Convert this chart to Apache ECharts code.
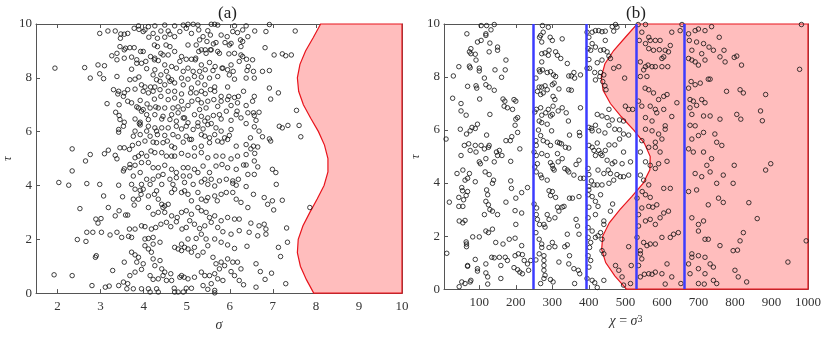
<!DOCTYPE html>
<html>
<head>
<meta charset="utf-8">
<script src="https://cdn.jsdelivr.net/npm/echarts@6/dist/echarts.min.js"></script>
<style>
  html, body { margin: 0; padding: 0; background: #fff; }
  #chart { width: 830px; height: 337px; }
</style>
</head>
<body>
<div id="chart"></div>
<script>
// tick labels
var sigmaTicks = [2, 3, 4, 5, 6, 7, 8, 9, 10]
var chiTicks = [100, 200, 300, 400, 500, 600, 700, 800, 900, 1000]

// boundary of the shaded region
var tauBoundary = [0, 0.5, 1, 1.5, 2, 2.5, 3, 3.5, 4, 4.5, 5, 5.5, 6, 6.5, 7, 7.5, 8, 8.5, 9, 9.5, 10]
var sigmaBoundary = [7.95, 7.78, 7.64, 7.57, 7.59, 7.70, 7.86, 8.03, 8.19, 8.28, 8.28, 8.20, 8.06, 7.88, 7.71, 7.60, 7.57, 7.63, 7.76, 7.94, 8.11]
var chiBoundary = [503, 471, 446, 435, 438, 456, 485, 518, 549, 567, 568, 552, 523, 489, 459, 439, 434, 444, 468, 500, 532]

// vertical blue lines in (b)
var chiLines = [248, 394, 530, 662]

// (a) samples: [sigma, tau]
var pointsA = [
[3.88,9.93],[4.11,9.90],[4.26,9.93],[4.49,9.96],[4.72,9.93],[4.92,9.96],[5.03,9.99],[5.15,9.99],[5.26,9.96],[5.57,9.99],[5.65,9.99],[5.72,9.96],[6.11,9.93],[6.38,9.93],[6.92,9.98],
[2.98,9.65],[3.17,9.74],[3.34,9.74],[3.47,9.63],[3.55,9.62],[3.63,9.65],[3.78,9.84],[3.89,9.80],[3.99,9.72],[4.03,9.78],[4.22,9.65],[4.32,9.47],[4.40,9.74],[4.57,9.74],[4.61,9.62],
[4.72,9.53],[4.84,9.72],[4.99,9.84],[5.11,9.65],[5.28,9.78],[5.38,9.53],[5.49,9.75],[5.55,9.59],[5.80,9.59],[5.94,9.53],[6.07,9.72],[6.18,9.68],[6.30,9.78],[6.58,9.74],[6.84,9.72],[7.52,9.74],
[3.46,9.47],[4.12,9.51],[4.49,9.51],[5.30,9.41],[5.47,9.35],[5.62,9.26],[5.68,9.31],[5.89,9.31],[5.99,9.22],[6.25,9.41],[6.30,9.35],[6.42,9.53],
[3.45,9.16],[3.55,9.04],[3.58,9.10],[3.68,9.12],[3.78,9.12],[4.25,9.22],[4.32,9.16],[4.52,9.22],[4.61,9.16],[5.03,9.22],[5.22,9.22],[5.43,9.04],[5.55,9.04],[6.03,9.28],[6.26,9.16],[6.82,9.12],
[3.26,8.82],[3.38,8.91],[3.55,8.73],[3.72,8.77],[3.84,8.67],[3.93,8.98],[3.99,8.98],[4.16,8.79],[4.26,8.73],[4.40,8.91],[4.45,8.85],[4.57,8.85],[4.72,8.98],[4.88,8.79],[4.99,8.69],
[5.11,8.69],[5.21,8.73],[5.28,8.98],[5.34,9.04],[5.45,8.91],[5.57,9.04],[5.72,8.98],[5.76,8.91],[5.98,8.89],[6.11,8.91],[6.26,8.85],[6.30,8.79],[6.39,8.69],[6.53,8.67],[7.03,8.85],[7.22,8.89],[7.30,8.82],[7.43,8.85],
[3.38,8.67],[3.84,8.54],[3.95,8.54],[4.05,8.61],[4.25,8.67],[4.34,8.64],[4.49,8.48],[4.65,8.42],[4.84,8.61],[5.03,8.36],[5.20,8.67],[5.34,8.48],[5.53,8.57],[5.66,8.42],[5.84,8.36],[6.03,8.48],[6.22,8.61],[6.43,8.42],
[2.63,8.38],[1.94,8.36],[2.94,8.48],[3.09,8.45],[3.72,8.32],[4.07,8.34],[4.26,8.30],[4.53,8.24],[4.76,8.36],[4.92,8.24],[5.15,8.24],[5.30,8.24],[5.43,8.30],[5.61,8.27],[5.82,8.36],[5.95,8.30],[6.08,8.24],[6.40,8.27],[6.55,8.24],[6.76,8.24],[6.92,8.27],
[2.76,7.99],[2.98,8.15],[3.07,7.97],[3.38,8.05],[3.68,7.93],[3.80,7.95],[3.89,8.03],[4.22,8.11],[4.30,7.93],[4.40,8.11],[4.57,8.03],[4.65,7.93],[4.88,7.99],[5.03,7.95],[5.18,8.05],[5.34,8.03],[5.53,7.99],[5.72,8.05],[5.99,8.11],[6.11,7.95],[6.38,7.99],[6.57,7.99],
[3.95,7.74],[4.03,7.66],[4.16,7.66],[4.26,7.66],[4.38,7.87],[4.49,7.74],[4.61,7.87],[4.72,7.81],[4.92,7.74],[5.11,7.62],[5.26,7.81],[5.42,7.74],[5.65,7.66],[5.95,7.66],
[3.30,7.56],[3.40,7.40],[3.63,7.56],[3.42,7.50],[3.55,7.44],[3.80,7.58],[3.99,7.50],[4.11,7.44],[4.22,7.50],[4.38,7.56],[4.57,7.50],[4.72,7.50],[4.88,7.40],[5.09,7.44],[5.22,7.44],[5.34,7.50],[5.43,7.41],[5.55,7.56],[5.65,7.50],
[5.80,7.31],[5.98,7.31],[6.11,7.27],[6.20,7.31],[6.32,7.50],[6.57,7.31],[6.92,7.62],[7.13,7.44],[6.95,7.21],
[3.53,7.31],[3.63,7.13],[3.72,7.07],[3.92,7.16],[4.08,7.03],[4.25,7.21],[4.40,7.31],[4.57,7.19],[4.72,7.25],[4.88,7.13],[5.12,7.13],[5.26,7.19],[5.34,7.07],[5.49,7.13],[5.63,7.19],[5.80,7.13],[5.95,7.19],[6.03,6.97],[6.18,7.07],[6.38,6.97],[6.53,7.13],
[3.15,7.04],[3.43,7.00],[3.84,6.92],[3.99,6.82],[4.15,6.88],[4.28,6.92],[4.34,6.88],[4.49,6.88],[4.68,6.88],[4.80,6.92],[4.92,6.84],[5.03,6.97],[5.30,6.82],[5.45,6.88],[5.72,6.94],[5.92,6.76],[6.17,6.76],[6.42,6.70],[6.55,6.70],[6.68,6.72],
[3.35,6.72],[3.43,6.60],[3.88,6.88],[3.95,6.76],[4.07,6.63],[4.26,6.63],[4.45,6.57],[4.65,6.63],[4.80,6.70],[4.95,6.51],[5.18,6.63],[5.34,6.57],[5.49,6.51],[5.62,6.60],[5.76,6.63],[6.15,6.63],[6.57,6.60],
[3.45,6.45],[3.55,6.35],[3.80,6.47],[3.92,6.35],[4.11,6.45],[4.42,6.47],[4.61,6.45],[4.76,6.39],[4.92,6.51],[5.03,6.33],[5.26,6.33],[5.42,6.39],[5.57,6.30],[5.80,6.47],[6.03,6.42],[6.26,6.51],[6.61,6.42],[7.55,6.79],
[3.42,6.08],[3.53,6.20],[3.90,6.30],[3.92,6.25],[4.11,6.20],[4.26,6.14],[4.42,6.14],[4.57,6.14],[4.76,6.20],[4.88,6.10],[4.99,6.20],[5.15,6.08],[5.26,6.20],[5.38,6.10],[5.49,6.26],[5.68,6.14],[5.80,6.02],[6.03,6.08],
[6.38,6.30],[6.57,6.18],[7.15,6.20],[7.22,6.14],[7.35,6.23],[7.61,6.23],[6.68,6.02],[7.65,5.81],[3.42,5.98],[3.80,6.02],[4.07,6.02],[4.30,6.02],
[3.76,5.83],[3.92,5.89],[4.15,5.83],[4.32,5.89],[4.49,5.86],[4.68,5.89],[4.80,5.81],[4.99,5.83],[5.11,5.71],[5.34,5.89],[5.42,5.83],[5.53,5.77],[5.65,5.89],[5.88,5.77],[5.99,5.86],[6.48,5.77],[6.76,5.81],[6.92,5.73],
[2.34,5.36],[2.65,4.91],[2.76,5.15],[3.09,5.18],[3.18,5.31],[3.34,5.12],[3.38,4.99],[3.45,5.40],[3.55,5.40],[3.67,5.34],[3.74,5.49],[3.88,5.56],[4.03,5.65],[4.22,5.61],[4.30,5.59],[4.45,5.59],[4.55,5.65],
[4.65,5.46],[4.72,5.40],[4.92,5.61],[5.07,5.71],[5.18,5.40],[5.34,5.46],[5.53,5.59],[5.72,5.65],[5.82,5.61],[5.95,5.71],[6.15,5.46],[6.38,5.52],[6.49,5.36],[6.55,5.46],[6.65,5.43],[6.95,5.65],
[3.55,4.62],[3.68,4.78],[3.80,5.03],[3.88,5.09],[3.95,5.19],[4.07,5.09],[4.17,5.28],[4.26,5.22],[4.42,5.22],[4.53,5.09],[4.65,5.09],[4.72,5.09],[4.88,5.19],[5.03,5.12],[5.18,5.09],[5.34,5.22],
[5.49,5.03],[5.68,5.09],[5.84,5.09],[6.03,4.99],[6.18,5.09],[6.38,5.15],[6.58,5.19],
[3.53,4.54],[3.68,4.66],[3.80,4.75],[3.95,4.85],[4.11,4.85],[4.22,4.66],[4.34,4.66],[4.49,4.75],[4.65,4.60],[4.76,4.48],[4.92,4.66],[5.03,4.66],[5.18,4.60],[5.38,4.72],[5.53,4.48],[5.68,4.72],
[5.82,4.78],[5.95,4.66],[6.15,4.60],[6.32,4.76],[6.38,4.76],[6.57,4.91],[6.99,4.60],[7.07,4.48],[6.65,4.69],
[2.34,4.54],[2.03,4.11],[2.26,4.01],[2.68,4.07],[2.98,4.04],[3.42,4.01],[3.76,4.35],[3.92,4.48],[4.07,4.23],[4.22,4.23],[4.34,4.35],[4.45,4.41],[4.61,4.23],[4.76,4.29],[4.92,4.35],[5.07,4.35],
[5.26,4.48],[5.42,4.23],[5.57,4.23],[5.76,4.17],[5.92,4.23],[6.07,4.17],[6.20,4.23],[6.42,4.41],[6.57,4.41],[7.08,4.04],
[3.72,4.04],[3.95,4.04],[4.15,4.04],[4.42,4.04],[4.68,4.04],[4.95,4.11],[5.15,4.04],[5.34,4.13],[5.49,4.04],[5.65,3.98],[6.07,4.08],[6.15,4.01],[6.38,3.96],
[2.52,3.14],[3.07,3.61],[3.18,3.18],[3.34,2.87],[3.43,3.06],[3.51,3.58],[3.58,2.90],[3.63,2.90],[3.76,3.49],[3.78,3.27],[3.88,3.49],[3.92,3.82],[3.94,3.67],[4.11,3.61],[4.25,3.67],[4.30,3.80],
[4.34,3.49],[4.42,3.30],[4.49,3.24],[4.57,3.30],[4.65,3.74],[4.72,3.86],[4.88,3.74],[4.95,3.80],[5.03,3.67],[5.11,3.43],[5.26,3.74],[5.34,3.49],[5.45,3.43],[5.49,3.55],[5.65,3.61],[5.71,3.43],
[5.80,3.67],[5.92,3.74],[6.07,3.74],[6.15,3.49],[6.26,3.37],[6.42,3.18],[6.55,3.67],[6.80,3.55],[6.88,3.30],[6.99,3.43],[7.22,3.45],[7.86,3.18],
[3.80,3.86],[3.99,3.86],[4.11,3.18],[4.22,2.93],[4.34,3.00],[4.45,3.18],[4.49,3.00],[4.65,2.87],[4.78,2.81],[4.88,3.00],[4.99,3.06],[5.11,2.93],[5.26,3.18],[5.34,3.06],[5.45,3.00],[5.53,2.81],
[5.65,2.87],[5.80,2.69],[5.95,2.81],[6.11,2.75],[6.22,2.75],[6.49,2.60],[6.68,2.50],[6.80,2.56],[6.84,2.38],[7.02,3.09],[7.32,2.42],
[2.89,2.75],[2.94,2.60],[3.01,2.77],[2.68,2.26],[2.46,1.99],[2.66,1.92],[2.82,2.26],[3.02,2.26],[3.22,2.16],[3.38,2.26],[3.49,2.07],[3.67,2.38],[3.80,2.38],[3.95,2.50],[4.03,2.47],[4.18,2.38],
[4.28,2.44],[4.40,2.56],[4.53,2.63],[4.63,2.47],[4.76,2.65],[4.89,2.38],[4.99,2.44],[5.07,2.69],[5.18,2.56],[5.30,2.40],[5.42,2.50],[5.57,2.63],[5.72,2.44],[5.84,2.28],[6.03,2.19],[6.22,2.32],
[6.45,2.26],[6.65,2.13],[6.84,2.19],[3.65,2.11],[3.72,2.07],[4.03,2.01],[4.11,2.03],[4.22,2.07],
[1.92,0.68],[2.34,0.65],[2.80,0.28],[2.88,1.33],[2.90,1.39],[3.11,0.22],[3.20,0.26],[3.28,0.84],[3.42,0.28],[3.53,0.41],[3.55,1.15],[3.63,0.35],[3.68,0.65],[3.80,0.78],[3.84,1.15],[3.88,1.33],
[3.95,0.88],[3.99,1.09],[4.03,1.76],[4.11,1.64],[4.18,1.52],[4.22,1.27],[4.26,1.02],[4.38,1.21],[4.42,0.90],[4.45,0.65],[4.49,0.78],[4.53,0.47],[4.63,0.72],[4.72,1.70],[4.80,1.64],[4.88,1.58],
[4.95,1.70],[5.03,1.64],[5.11,1.52],[5.18,1.70],[5.26,1.39],[5.38,1.52],[5.49,1.76],[5.61,1.33],[5.68,1.09],[5.76,0.90],[5.80,1.15],[5.88,1.02],[5.95,1.27],[6.07,1.15],[6.18,1.15],[6.26,0.90],
[6.40,1.74],[6.61,1.09],[6.71,0.80],[6.97,0.74],[7.13,1.70],[7.18,1.36],[7.34,1.89],[7.30,0.35],[6.11,0.65],[6.22,0.47],[6.32,0.31],[6.61,0.22],[6.82,0.51],
[3.61,0.16],[3.76,0.16],[3.95,0.16],[4.11,0.16],[4.30,0.16],[4.34,0.04],[4.71,0.18],[4.80,0.04],[4.92,0.04],[4.99,0.18],[5.11,0.18],[5.38,0.28],[5.49,0.14],[5.57,0.35],[5.65,0.01],[5.65,0.10],
[4.15,0.65],[4.22,0.51],[4.34,0.53],[4.65,0.47],[4.84,0.59],[4.88,0.65],[4.94,0.59],[5.03,0.53],[5.18,0.59],[5.34,0.78],[5.42,0.65],[5.53,0.65],[5.65,0.72],[5.72,0.53],[5.84,0.47],[6.03,0.80],
[4.15,0.04],[4.72,0.04],[4.88,1.82],[5.03,2.01],[5.22,2.03],[5.34,2.19],[5.45,2.01],[5.65,2.01],[5.80,1.89],[5.95,1.79],[6.11,1.66],[4.22,1.82],[4.38,1.89],[3.72,1.52],[3.80,1.42]
]

// (b) samples: [chi, tau]
var pointsB = [
[66,9.63],[105,9.94],[118,9.63],[132,9.78],[141,9.98],[120,9.94],[73,8.95],[77,8.88],[89,8.86],[77,9.07],[95,9.32],[105,9.38],[118,9.57],[150,9.13],[150,9.01],[129,9.28],[127,8.95],
[91,8.64],[44,8.39],[73,8.41],[75,8.35],[100,8.33],[100,8.23],[29,8.04],[114,7.96],[118,7.71],[91,7.67],[93,7.58],[127,7.62],[141,7.50],[101,7.17],[27,7.20],[143,8.27],[171,8.27],[173,8.64],
[161,7.99],[165,7.17],[168,6.90],[177,6.84],[191,6.78],[170,7.09],[195,7.15],[200,7.09],[68,7.65],[50,7.00],[50,6.72],[64,6.56],[129,6.59],[9,5.66],[48,6.03],[65,5.85],[75,5.97],[80,6.10],
[89,6.06],[95,6.22],[71,5.48],[75,5.23],[59,5.42],[50,5.04],[120,5.81],[127,5.42],[125,5.35],[105,5.42],[114,5.29],[89,5.42],[91,5.17],[150,5.04],[147,5.17],[155,5.23],[141,4.80],[118,4.92],
[100,4.80],[103,4.73],[116,4.42],[127,4.32],[139,4.11],[136,3.99],[173,5.60],[189,5.75],[198,6.18],[200,6.41],[205,6.47],[185,5.60],[205,5.91],[211,5.29],[186,4.82],[162,5.04],[39,4.36],
[55,4.49],[73,4.36],[68,4.18],[61,4.11],[89,4.05],[52,3.83],[54,3.71],[68,3.68],[64,3.53],[44,3.46],[57,3.37],[18,3.28],[44,3.12],[55,3.12],[120,3.74],[123,3.56],[118,3.31],[125,3.18],
[129,3.00],[114,2.81],[150,2.81],[136,2.94],[186,4.08],[188,3.80],[200,3.43],[173,3.28],[198,2.96],[200,2.44],[216,2.87],[232,3.83],[216,3.64],[45,2.57],[55,2.50],[61,2.59],[82,1.97],
[100,1.97],[64,1.78],[65,1.70],[65,1.60],[118,2.19],[125,2.13],[136,2.26],[145,1.76],[165,1.70],[182,1.88],[198,1.92],[198,1.26],[216,1.64],[207,1.33],[218,1.30],[171,1.20],[177,1.08],
[155,1.20],[159,0.89],[134,1.20],[141,1.18],[118,0.95],[118,0.61],[123,0.46],[123,0.19],[95,0.77],[95,0.68],[89,1.12],[68,0.89],[68,0.86],[77,0.33],[75,0.27],[61,0.21],[52,0.27],[45,0.09],
[11,1.35],[159,0.40],[195,0.81],[205,0.73],[218,0.58],[211,0.64],[223,1.08],[232,0.95],[235,0.71],[241,1.08],
[273,9.94],[268,9.57],[265,9.50],[271,9.32],[275,9.69],[289,9.88],[294,9.50],[300,9.38],[271,8.88],[280,8.91],[289,8.82],[291,9.01],[309,8.95],[314,8.82],[323,8.70],[327,9.44],[341,8.51],
[271,8.57],[264,8.27],[266,8.20],[273,8.27],[286,8.17],[295,8.20],[303,8.08],[309,8.02],[345,8.04],[352,8.04],[359,8.17],[361,7.96],[377,8.08],[255,7.96],[264,7.62],[271,7.62],[280,7.67],
[259,7.46],[268,7.34],[275,7.40],[286,7.52],[300,7.71],[305,7.77],[302,7.27],[307,7.15],[318,7.55],[345,7.52],[352,7.50],[252,6.68],[256,6.78],[268,6.84],[271,6.56],[282,6.65],[289,6.78],
[302,6.90],[295,6.53],[300,6.59],[316,6.72],[327,6.84],[338,6.65],[344,6.34],[377,6.84],[264,6.34],[271,6.28],[286,6.22],[298,5.97],[262,6.00],[268,5.79],[255,5.60],[256,5.42],[275,5.60],
[286,5.54],[295,5.42],[314,5.54],[320,5.51],[325,5.48],[336,5.35],[345,5.32],[347,5.81],[374,5.91],[375,5.79],[250,5.17],[256,5.04],[271,5.11],[286,5.04],[295,4.77],[300,4.67],[302,4.55],
[305,4.49],[314,5.11],[316,4.80],[327,4.92],[334,4.55],[341,4.49],[345,4.42],[359,4.30],[365,4.70],[373,4.86],[252,4.61],[259,4.73],[256,4.42],[268,4.30],[271,4.20],[286,4.11],[291,3.71],
[300,3.68],[295,3.53],[309,3.46],[314,3.09],[327,3.09],[332,3.12],[318,2.94],[307,2.69],[286,2.81],[291,2.63],[277,2.44],[280,2.34],[256,2.81],[259,2.63],[265,2.44],[250,3.21],[257,3.06],
[255,2.13],[264,1.88],[271,1.70],[271,1.57],[277,1.26],[277,1.08],[277,0.89],[277,0.71],[280,0.52],[277,0.40],[255,1.10],[264,1.33],[268,0.21],[291,1.57],[300,1.76],[307,1.60],[295,0.36],
[302,0.27],[318,1.02],[334,1.60],[341,1.67],[347,1.26],[345,0.95],[359,0.77],[371,0.71],[375,0.58],[361,0.21],[341,2.07],[365,2.63],[369,2.38],[373,2.07],[355,3.43],[347,3.43],[373,3.49],
[377,4.18],[386,4.18],
[395,9.69],[400,9.50],[398,9.07],[405,9.01],[409,9.69],[418,9.75],[427,9.75],[436,9.71],[445,9.73],[464,9.90],[473,9.98],[477,9.88],[468,9.73],[409,9.26],[418,9.13],[432,9.01],[441,9.03],
[450,8.95],[445,9.38],[455,8.79],[459,8.70],[436,8.64],[423,8.54],[400,8.66],[395,8.33],[402,8.33],[416,8.17],[432,8.17],[418,7.89],[430,8.02],[441,8.08],[438,7.83],[444,7.67],[447,7.52],
[468,8.33],[482,8.39],[498,7.96],[500,6.90],[509,6.78],[520,6.78],[455,6.78],[423,6.59],[436,6.53],[450,6.47],[464,6.38],[484,6.38],[495,6.34],[400,6.10],[407,6.06],[418,6.18],[409,5.97],
[427,5.97],[444,5.89],[455,6.18],[471,6.03],[484,6.01],[495,5.85],[509,5.81],[400,5.42],[409,5.35],[414,5.23],[423,5.51],[418,5.04],[427,5.23],[432,5.11],[436,5.04],[445,5.23],[455,5.44],
[471,5.44],[484,5.66],[495,5.17],[514,4.80],[471,4.80],[464,4.73],[450,4.86],[453,4.49],[491,4.73],[486,4.24],[495,4.24],[477,4.32],[459,4.36],[441,4.36],[425,4.49],[398,4.55],[400,4.32],
[407,4.08],[414,3.93],[400,3.87],[400,3.74],[423,3.93],[436,3.93],[455,3.99],[468,4.11],[509,4.30],[398,3.56],[409,3.49],[418,3.31],[432,3.56],[425,3.12],[400,3.09],[418,2.81],[398,2.69],
[441,2.57],[441,2.44],[465,3.21],[459,2.94],[398,2.32],[409,2.19],[398,1.95],[405,1.76],[402,1.57],[418,1.95],[425,2.01],[432,2.13],[436,1.88],[398,1.26],[405,1.08],[400,0.83],[395,0.40],
[409,0.33],[416,0.24],[423,0.06],[441,0.33],[441,1.33],[436,1.45],[473,0.89],[482,0.71],[495,0.15],[491,0.46],[509,1.60],[516,0.89],[514,0.21],
[535,9.98],[555,9.98],[545,9.69],[538,9.38],[555,9.26],[564,9.50],[568,9.38],[582,9.38],[595,9.38],[564,9.07],[577,9.01],[593,9.03],[609,9.01],[623,9.19],[627,9.69],[650,9.75],[655,9.98],
[600,8.70],[605,8.76],[618,8.95],[541,8.57],[555,8.39],[562,8.45],[550,8.27],[541,8.02],[559,8.02],[573,8.39],[582,8.39],[600,8.39],[616,8.39],[554,7.58],[564,7.52],[577,7.40],[591,7.15],
[605,7.27],[614,7.34],[536,7.09],[545,6.90],[568,6.90],[582,6.78],[605,6.78],[627,6.51],[641,7.03],[555,6.47],[573,6.34],[586,6.65],[609,6.16],[609,6.03],[555,6.03],[573,5.97],[591,5.85],
[582,5.54],[600,5.66],[545,5.60],[564,5.35],[582,5.35],[595,5.17],[541,5.17],[555,4.80],[568,4.67],[591,4.73],[614,4.82],[541,4.30],[550,4.11],[564,3.93],[582,4.55],[605,3.80],[623,3.80],
[546,3.68],[555,3.56],[568,3.46],[532,3.43],[545,3.06],[564,3.12],[575,3.09],[586,3.18],[605,2.87],[618,2.94],[536,2.81],[555,2.57],[568,2.63],[582,2.44],[595,2.69],[536,2.38],[532,1.95],
[550,1.76],[559,1.64],[568,1.70],[582,1.70],[600,1.95],[623,1.95],[632,2.07],[645,2.13],[541,1.45],[541,1.33],[545,1.14],[536,0.89],[552,0.56],[564,0.58],[573,0.56],[582,0.64],[600,0.58],
[614,0.95],[627,0.46],[652,0.21],[609,0.19],[541,0.46],
[673,9.63],[691,9.75],[700,9.81],[718,9.75],[736,9.90],[757,9.50],[675,9.38],[682,9.01],[695,9.32],[714,9.26],[729,9.13],[770,9.01],[709,8.88],[741,9.01],[673,8.70],[682,8.64],[691,8.57],
[700,8.45],[718,8.64],[759,8.76],[773,8.57],[798,8.74],[805,8.79],[818,8.45],[680,7.83],[673,7.58],[691,7.71],[705,7.77],[727,7.92],[732,7.92],[677,7.15],[686,7.09],[709,7.15],[718,7.03],
[695,6.93],[677,6.84],[682,6.59],[714,6.53],[732,6.53],[777,7.46],[814,7.52],[823,7.40],[884,7.34],[759,6.41],[805,6.59],[816,6.41],[870,6.72],[875,6.35],[677,6.18],[691,6.16],[714,5.91],
[745,5.85],[750,5.54],[764,5.42],[682,5.66],[700,5.79],[673,5.29],[686,5.17],[714,5.17],[723,4.67],[736,4.92],[691,4.36],[709,4.24],[732,4.42],[750,3.99],[768,4.30],[798,4.67],[795,3.99],
[884,4.49],[898,4.73],[673,3.68],[695,3.74],[727,3.18],[755,3.43],[768,3.27],[838,3.26],[861,2.66],[682,2.69],[700,2.44],[714,2.57],[700,2.19],[718,1.88],[727,1.88],[759,1.64],[795,1.45],
[807,1.47],[814,1.82],[823,2.13],[995,1.82],[945,1.02],[682,1.33],[682,1.20],[700,1.26],[718,1.20],[732,0.95],[741,0.83],[673,0.95],[677,0.58],[700,0.77],[718,0.58],[741,0.33],[750,0.21],
[716,0.19],[700,0.21],[800,0.71],[809,0.46],[832,0.27],[977,8.29],[982,9.98]
]

var serif = '"Liberation Serif", "Times New Roman", serif'
var frameColor = '#555'
var textColor = '#333'

function xAxisOf(grid, min, max, ticks, top) {
    return {
        type: 'value', gridIndex: grid, min: min, max: max,
        position: top ? 'top' : 'bottom',
        axisLine: { show: true, onZero: false, lineStyle: { color: frameColor, width: 1 } },
        axisTick: { show: true, inside: true, length: 4, customValues: ticks, lineStyle: { color: frameColor } },
        axisLabel: {
            show: !top, customValues: ticks, color: textColor, fontFamily: serif, fontSize: 13, margin: 7,
            formatter: function (v) { return String(v) }
        },
        splitLine: { show: false }
    }
}

function yAxisOf(grid, right) {
    return {
        type: 'value', gridIndex: grid, min: 0, max: 10, interval: 2,
        position: right ? 'right' : 'left',
        axisLine: { show: true, onZero: false, lineStyle: { color: frameColor, width: 1 } },
        axisTick: { show: true, inside: true, length: 4, lineStyle: { color: frameColor } },
        axisLabel: { show: !right, color: textColor, fontFamily: serif, fontSize: 13, margin: 4 },
        splitLine: { show: false },
        name: right ? '' : 'τ',
        nameLocation: 'middle',
        nameGap: 22,
        nameTextStyle: { fontFamily: serif, fontSize: 13, fontStyle: 'italic', color: textColor }
    }
}

function shadeSeries(xIdx, yIdx, xs, xmax) {
    return {
        type: 'custom',
        xAxisIndex: xIdx, yAxisIndex: yIdx,
        silent: true,
        z: 1,
        data: [[xmax, 0]],
        renderItem: function (params, api) {
            var pts = []
            for (var i = 0; i < tauBoundary.length; i++) {
                pts.push(api.coord([xs[i], tauBoundary[i]]))
            }
            pts.push(api.coord([xmax, 10]))
            pts.push(api.coord([xmax, 0]))
            return {
                type: 'polygon',
                shape: { points: pts },
                style: { fill: '#ffbdbd', stroke: '#e8141c', lineWidth: 1.2 }
            }
        }
    }
}

var xa = xAxisOf(0, 1.5, 10, sigmaTicks, false)
xa.name = 'σ'
xa.nameLocation = 'middle'
xa.nameGap = 24
xa.nameTextStyle = { fontFamily: serif, fontSize: 14, fontStyle: 'italic', color: textColor }

var xb = xAxisOf(1, 3.375, 1000, chiTicks, false)
xb.name = '{i|χ}{n| = }{i|σ}{s|3}'
xb.nameLocation = 'middle'
xb.nameGap = 24
xb.nameTextStyle = {
    fontFamily: serif, fontSize: 14, color: textColor,
    rich: {
        i: { fontFamily: serif, fontSize: 14, fontStyle: 'italic', color: textColor },
        n: { fontFamily: serif, fontSize: 14, color: textColor },
        s: { fontFamily: serif, fontSize: 10, color: textColor, verticalAlign: 'top', lineHeight: 10, padding: [0, 0, 8, 0] }
    }
}

var chart = echarts.init(document.getElementById('chart'), null, { renderer: 'canvas' })

var symbolStyle = { color: 'rgba(0,0,0,0)', borderColor: '#111', borderWidth: 1 }

var option = {
    animation: false,
    backgroundColor: '#fff',
    textStyle: { fontFamily: serif },
    title: [
        { text: '(a)', left: 213, top: 0, textStyle: { fontFamily: serif, fontSize: 17, fontWeight: 'normal', color: '#222' } },
        { text: '(b)', left: 621, top: 0, textStyle: { fontFamily: serif, fontSize: 17, fontWeight: 'normal', color: '#222' } }
    ],
    grid: [
        { left: 35, right: 428, top: 24, bottom: 43 },
        { left: 444, right: 22, top: 24, bottom: 45 }
    ],
    xAxis: [xa, xAxisOf(0, 1.5, 10, sigmaTicks, true), xb, xAxisOf(1, 3.375, 1000, chiTicks, true)],
    yAxis: [yAxisOf(0, false), yAxisOf(0, true), yAxisOf(1, false), yAxisOf(1, true)],
    series: [
        shadeSeries(0, 0, sigmaBoundary, 10),
        {
            type: 'scatter', xAxisIndex: 0, yAxisIndex: 0, z: 3,
            symbol: 'circle', symbolSize: 4.5,
            itemStyle: symbolStyle,
            data: pointsA
        },
        shadeSeries(2, 2, chiBoundary, 1000),
        {
            type: 'line', xAxisIndex: 2, yAxisIndex: 2, z: 2,
            data: [],
            markLine: {
                silent: true, symbol: 'none',
                label: { show: false },
                lineStyle: { color: '#3c3cff', width: 2.5, type: 'solid' },
                data: chiLines.map(function (v) { return { xAxis: v } })
            }
        },
        {
            type: 'scatter', xAxisIndex: 2, yAxisIndex: 2, z: 3,
            symbol: 'circle', symbolSize: 4.5,
            itemStyle: symbolStyle,
            data: pointsB
        }
    ]
}
chart.setOption(option)
</script>
</body>
</html>
